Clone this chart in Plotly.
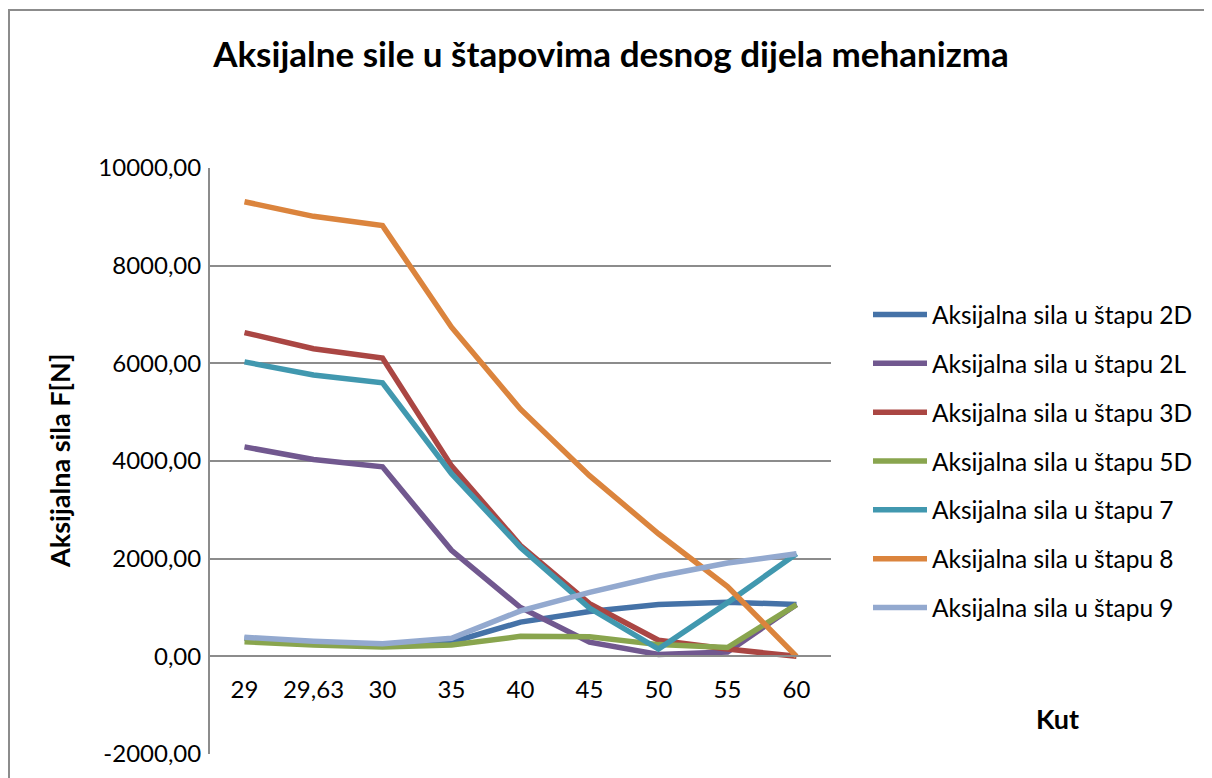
import plotly.graph_objects as go

categories = ["29", "29,63", "30", "35", "40", "45", "50", "55", "60"]

s_2D = [370, 290, 240, 290, 700, 920, 1060, 1110, 1060]
s_2L = [4290, 4030, 3880, 2170, 1000, 290, 40, 90, 1060]
s_3D = [6630, 6300, 6110, 3900, 2270, 1080, 330, 150, 0]
s_5D = [300, 230, 190, 230, 410, 400, 240, 180, 1060]
s_7 = [6030, 5760, 5600, 3740, 2230, 990, 150, 1100, 2100]
s_8 = [9310, 9010, 8820, 6740, 5060, 3700, 2510, 1430, 0]
s_9 = [390, 310, 260, 370, 930, 1310, 1640, 1910, 2100]

series_names = [
    "Aksijalna sila u štapu 2D",
    "Aksijalna sila u štapu 2L",
    "Aksijalna sila u štapu 3D",
    "Aksijalna sila u štapu 5D",
    "Aksijalna sila u štapu 7",
    "Aksijalna sila u štapu 8",
    "Aksijalna sila u štapu 9",
]
series_values = [s_2D, s_2L, s_3D, s_5D, s_7, s_8, s_9]
series_colors = ["#4572A7", "#71588F", "#AA4643", "#89A54E", "#4198AF", "#DB843D", "#93A9CF"]

y_tickvals = [-2000, 0, 2000, 4000, 6000, 8000, 10000]
y_ticktext = ["-2000,00", "0,00", "2000,00", "4000,00", "6000,00", "8000,00", "10000,00"]

title_text = "Aksijalne sile u štapovima desnog dijela mehanizma"
y_title = "Aksijalna sila F[N]"
x_title = "Kut"

# page body has an 8px margin
OFF = 8
W, H = 1212 - OFF, 778 - OFF
# plot area in window pixels (reference): x 210..831, y 168..754
PL, PR, PT, PB = 210, 831, 168, 754
L = PL - OFF
T = PT - OFF
R = W - (PR - OFF)
B = H - (PB - OFF)
pw = PR - PL
ph = PB - PT

FONT = "Lato"
GRID = "#8c8c8c"

fig = go.Figure()
for name, vals, col in zip(series_names, series_values, series_colors):
    fig.add_trace(go.Scatter(
        x=categories, y=vals, name=name, mode="lines",
        line=dict(color=col, width=5.5), legendgroup=name,
    ))

ymin, ymax = y_tickvals[0], y_tickvals[-1]

def px_x(px):
    return (px - PL) / pw

def px_y(py):
    return (PB - py) / ph

fig.update_layout(
    width=W, height=H,
    margin=dict(l=L, r=R, t=T, b=B, pad=0),
    paper_bgcolor="white", plot_bgcolor="white",
    font=dict(family=FONT, size=24, color="black"),
    title=dict(text="<b>" + title_text + "</b>", font=dict(family=FONT, size=35, color="black"),
               x=(611 - OFF) / W, xref="container", xanchor="center",
               y=1 - (55 - OFF) / H, yref="container", yanchor="middle"),
    showlegend=True,
    legend=dict(x=px_x(868), xanchor="left", y=px_y(461), yanchor="middle",
                font=dict(family=FONT, size=24.5, color="black"),
                tracegroupgap=14, itemwidth=54, bgcolor="rgba(0,0,0,0)"),
    xaxis=dict(type="category", range=[-0.5, len(categories) - 0.5],
               anchor="free", position=(0 - ymin) / (ymax - ymin),
               showline=True, linecolor=GRID, linewidth=2,
               showgrid=False, ticks="", ticklabelstandoff=12,
               tickfont=dict(family=FONT, size=24, color="black"),
               zeroline=False),
    yaxis=dict(range=[ymin, ymax], tickvals=y_tickvals, ticktext=y_ticktext,
               showgrid=True, gridcolor=GRID, gridwidth=2,
               showline=True, linecolor=GRID, linewidth=2,
               ticks="", ticklabelstandoff=2,
               tickfont=dict(family=FONT, size=24, color="black"),
               zeroline=False),
    annotations=[
        dict(text="<b>" + y_title + "</b>", textangle=-90, xref="paper", yref="paper",
             x=px_x(59), y=0.5, xanchor="center", yanchor="middle", showarrow=False,
             font=dict(family=FONT, size=27, color="black")),
        dict(text="<b>" + x_title + "</b>", xref="paper", yref="paper",
             x=px_x(1057), y=px_y(718), xanchor="center", yanchor="middle", showarrow=False,
             font=dict(family=FONT, size=27, color="black")),
    ],
    shapes=[
        dict(type="rect", xref="paper", yref="paper", layer="below",
             x0=px_x(OFF + 1), x1=px_x(1240), y0=px_y(820), y1=px_y(10),
             line=dict(color="#8c8c8c", width=2), fillcolor="rgba(0,0,0,0)"),
    ],
)

fig.write_html("out.html")
